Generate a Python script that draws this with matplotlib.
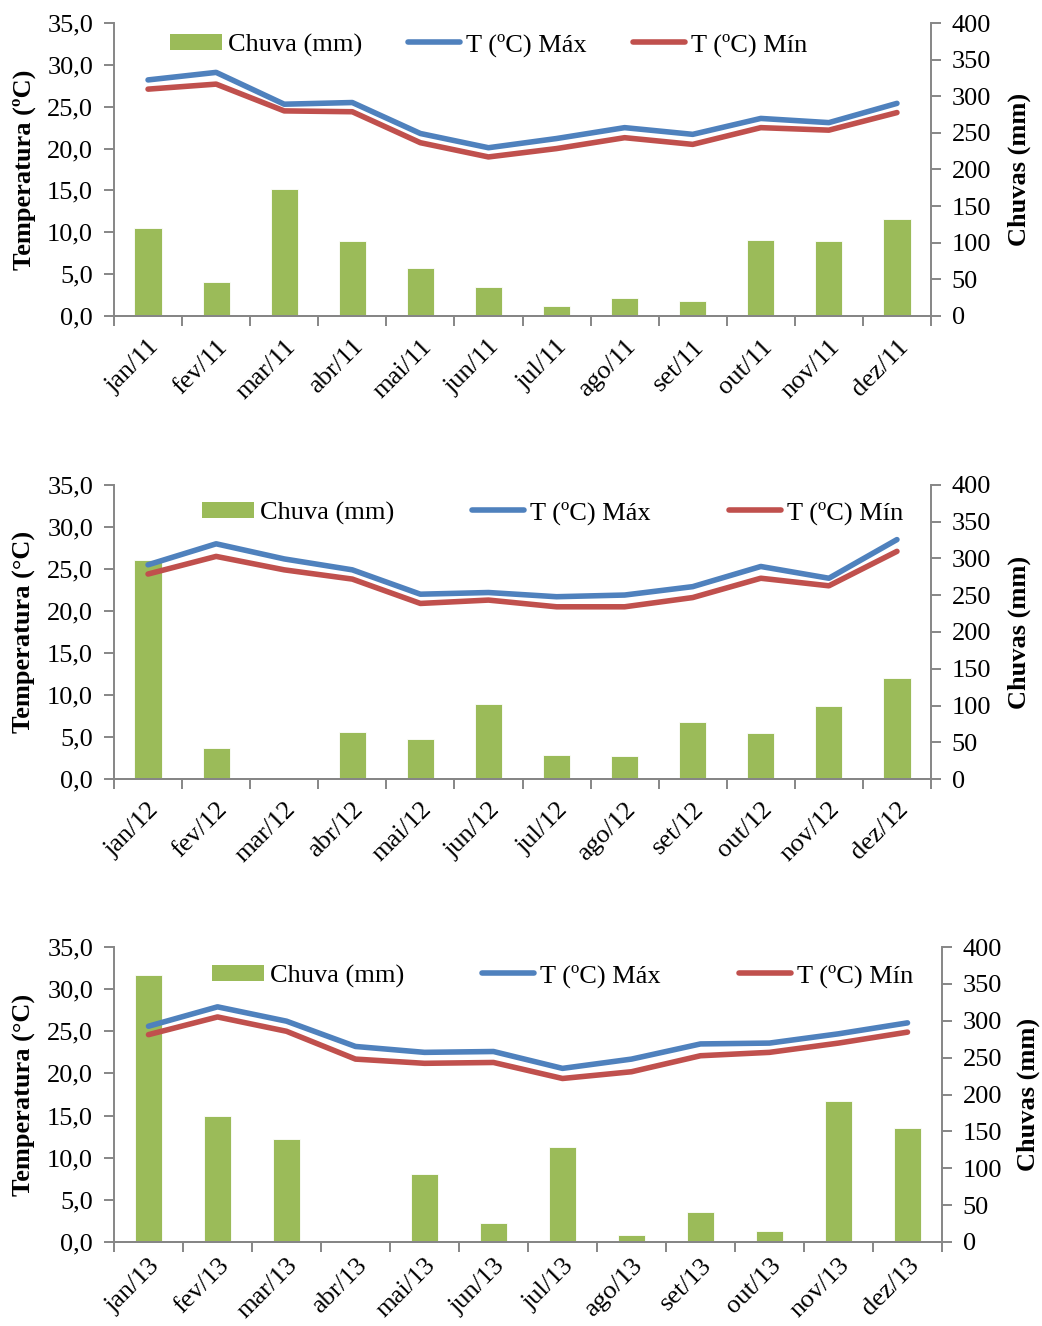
import matplotlib
matplotlib.use("Agg")
import matplotlib.pyplot as plt
from matplotlib.patches import Patch
from matplotlib.lines import Line2D
import numpy as np

plt.rcParams['font.family'] = ['Liberation Serif', 'DejaVu Serif']
plt.rcParams['font.size'] = 19

months = ["jan", "fev", "mar", "abr", "mai", "jun", "jul", "ago", "set", "out", "nov", "dez"]
years = ["11", "12", "13"]

tmax_2011 = [28.2, 29.1, 25.3, 25.5, 21.8, 20.1, 21.2, 22.5, 21.7, 23.6, 23.1, 25.4]
tmin_2011 = [27.1, 27.7, 24.5, 24.4, 20.7, 19.0, 20.0, 21.3, 20.5, 22.5, 22.2, 24.3]
rain_2011 = [120, 47, 174, 102, 65, 39, 14, 24, 20, 104, 103, 132]

tmax_2012 = [25.5, 28.0, 26.2, 24.9, 22.0, 22.2, 21.7, 21.9, 22.9, 25.3, 23.9, 28.5]
tmin_2012 = [24.4, 26.5, 24.9, 23.8, 20.9, 21.3, 20.5, 20.5, 21.6, 23.9, 23.0, 27.1]
rain_2012 = [298, 42, 0, 64, 55, 102, 32, 31, 77, 62, 100, 138]

tmax_2013 = [25.6, 27.9, 26.2, 23.2, 22.5, 22.6, 20.6, 21.7, 23.5, 23.6, 24.7, 26.0]
tmin_2013 = [24.6, 26.7, 25.0, 21.7, 21.2, 21.3, 19.4, 20.2, 22.1, 22.5, 23.6, 24.9]
rain_2013 = [362, 171, 139, 0, 92, 26, 129, 9, 41, 15, 191, 154]

panels = [
    (years[0], tmax_2011, tmin_2011, rain_2011, "Temperatura (ºC)"),
    (years[1], tmax_2012, tmin_2012, rain_2012, "Temperatura (°C)"),
    (years[2], tmax_2013, tmin_2013, rain_2013, "Temperatura (°C)"),
]

W, H = 1042, 1326
fig = plt.figure(figsize=(W / 100, H / 100), dpi=100)

# axes pixel boxes: left, right, top, bottom
boxes = [(114, 931, 23, 316), (114, 931, 485, 779), (114, 942, 947, 1242)]
leg_pos = [(170, 45, 1.74), (202, 513, 2.95), (212, 976, 2.95)]
right_label_x = [1008, 1008, 1017]
xlabel_pads = [14, 14, 9]

GREEN = "#9BBB59"
BLUE = "#4F81BD"
RED = "#C0504D"
GRAY = "#868686"

for (yr, tmax, tmin, rain, ylab), (l, r, t, b), (lx, ly, cs), rlx, xpad in zip(
        panels, boxes, leg_pos, right_label_x, xlabel_pads):
    ax = fig.add_axes([l / W, 1 - b / H, (r - l) / W, (b - t) / H])
    ax2 = ax.twinx()
    x = np.arange(len(months))
    ax2.bar(x, rain, width=0.4, color=GREEN, edgecolor="white", linewidth=0.6)
    ax.plot(x, tmax, color=BLUE, lw=4.0, solid_capstyle="round", solid_joinstyle="round")
    ax.plot(x, tmin, color=RED, lw=4.0, solid_capstyle="round", solid_joinstyle="round")
    ax.set_zorder(ax2.get_zorder() + 1)
    ax.patch.set_visible(False)

    ax.set_xlim(-0.5, 11.5)
    ax.set_ylim(0, 35)
    ax2.set_ylim(0, 400)
    ax.set_yticks(np.arange(0, 35.1, 5))
    ax.set_yticklabels([f"{v:.1f}".replace(".", ",") for v in np.arange(0, 35.1, 5)])
    ax2.set_yticks(np.arange(0, 401, 50))
    ax2.set_yticklabels([str(v) for v in range(0, 401, 50)])

    ax.set_xticks(np.arange(-0.5, 12, 1))
    ax.set_xticklabels([])
    ax.set_xticks(x, minor=True)
    ax.set_xticklabels([f"{m}/{yr}" for m in months], minor=True)
    ax.tick_params(axis="x", which="major", direction="out", length=7, width=1.4, color=GRAY)
    ax.tick_params(axis="x", which="minor", length=0, pad=xpad)
    for lbl in ax.get_xticklabels(minor=True):
        lbl.set_rotation(45)
        lbl.set_ha("right")
        lbl.set_va("top")
        lbl.set_rotation_mode("anchor")
    ax.tick_params(axis="y", direction="out", length=7, width=1.4, color=GRAY, pad=8)
    ax2.tick_params(axis="y", direction="out", length=7, width=1.4, color=GRAY, pad=8)
    ax2.tick_params(axis="x", which="both", length=0)

    for a in (ax, ax2):
        a.spines["top"].set_visible(False)
        for side in ("left", "right", "bottom"):
            a.spines[side].set_color(GRAY)
            a.spines[side].set_linewidth(1.4)
    ax.spines["right"].set_visible(False)
    ax2.spines["left"].set_visible(False)

    ax.set_ylabel(ylab, fontweight="bold")
    ax.yaxis.set_label_coords((36 - l) / (r - l), 0.5)
    ax2.set_ylabel("Chuvas (mm)", fontweight="bold", rotation=90)
    ax2.yaxis.set_label_coords((rlx - l) / (r - l), 0.5)

    handles = [Patch(facecolor=GREEN, edgecolor="none"),
               Line2D([], [], color=BLUE, lw=4.0, solid_capstyle="round"),
               Line2D([], [], color=RED, lw=4.0, solid_capstyle="round")]
    labels = ["Chuva (mm)", "T (ºC) Máx", "T (ºC) Mín"]
    ax.legend(handles, labels, ncol=3, frameon=False, loc="center left",
              bbox_to_anchor=((lx - l) / (r - l), (b - ly) / (b - t)),
              borderpad=0, borderaxespad=0, handlelength=1.97, handletextpad=0.23,
              columnspacing=cs, handleheight=0.6, fontsize=19)

fig.savefig("out.png", dpi=100)
